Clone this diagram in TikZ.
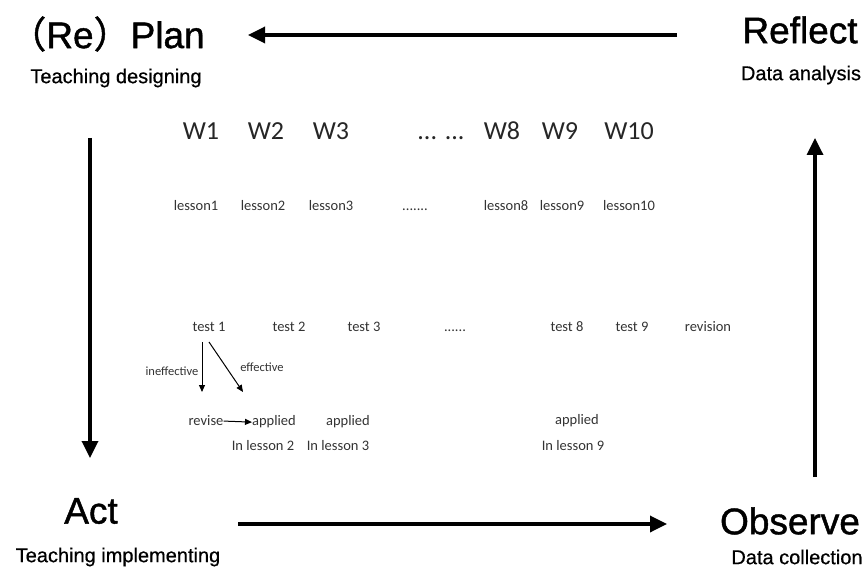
\documentclass[tikz,border=0pt]{standalone}
\usepackage{fontspec}
\setmainfont{Liberation Sans}
\newfontfamily\bigfont[FakeBold=1.2]{Liberation Sans}
\newfontfamily\subfont[FakeBold=0.6]{Liberation Sans}
\newfontfamily\carfont{Carlito}
\newfontfamily\cjkfont[FakeBold=1.2]{Noto Sans CJK SC}
\usetikzlibrary{arrows.meta}
\begin{document}
\begin{tikzpicture}[x=1pt,y=-1pt,
  big/.style={inner sep=0pt,font=\bigfont\fontsize{37}{40}\selectfont},
  sub/.style={inner sep=0pt,font=\subfont\fontsize{20}{22}\selectfont},
  week/.style={inner sep=0pt,anchor=base,font=\carfont\fontsize{26}{28}\selectfont,text=black!85},
  item/.style={inner sep=0pt,anchor=base,font=\carfont\fontsize{14.5}{16}\selectfont,text=black!80},
  tiny/.style={inner sep=0pt,font=\carfont\fontsize{12.5}{13}\selectfont,text=black!80},
  cycle/.style={line width=3.4pt,-{Triangle[length=17pt,width=16pt]}},
  small/.style={line width=1pt,-{Triangle[length=7pt,width=6pt]}}]
\useasboundingbox (0,0) rectangle (867,572);
% corner labels
\node[big] (plan) at (107,34) {{\cjkfont（}Re{\cjkfont）}Plan};
\node[sub] (plansub) at (116,78) {Teaching designing};
\node[big] (reflect) at (800,30) {Reflect};
\node[sub] (reflectsub) at (801,75) {Data analysis};
\node[big] (act) at (91,511) {Act};
\node[sub] (actsub) at (118,557) {Teaching implementing};
\node[big] (observe) at (790,521) {Observe};
\node[sub] (observesub) at (797,557) {Data collection};
% cycle arrows
\coordinate (tR) at (677,35);
\coordinate (tL) at (248,35);
\coordinate (lT) at (90,138);
\coordinate (lB) at (90,458);
\coordinate (bL) at (238,524);
\coordinate (bR) at (667,524);
\coordinate (rB) at (815,477);
\coordinate (rT) at (815,138);
\draw[cycle] (tR) -- (tL);
\draw[cycle] (lT) -- (lB);
\draw[cycle] (bL) -- (bR);
\draw[cycle] (rB) -- (rT);
% weeks
\node[week] (w1) at (201,140) {W1};
\node[week] (w2) at (266,140) {W2};
\node[week] (w3) at (331,140) {W3};
\node[week] (wd) at (441,140) {... ...};
\node[week] (w8) at (502,140) {W8};
\node[week] (w9) at (560,140) {W9};
\node[week] (w10) at (629,140) {W10};
% lessons
\node[item] (l1) at (196,211) {lesson1};
\node[item] (l2) at (263,211) {lesson2};
\node[item] (l3) at (331,211) {lesson3};
\node[item] (ld) at (415,211) {.......};
\node[item] (l8) at (506,211) {lesson8};
\node[item] (l9) at (562,211) {lesson9};
\node[item] (l10) at (629,211) {lesson10};
% tests
\node[item] (t1) at (209,331) {test 1};
\node[item] (t2) at (289,331) {test 2};
\node[item] (t3) at (364,331) {test 3};
\node[item] (td) at (455,331) {......};
\node[item] (t8) at (567,331) {test 8};
\node[item] (t9) at (632,331) {test 9};
\node[item] (rev) at (708,331) {revision};
% outcomes
\node[item] (revise) at (206,425) {revise};
\node[item] (ap1) at (274,425) {applied};
\node[item] (ap2) at (348,425) {applied};
\node[item] (in2) at (263,450) {In lesson 2};
\node[item] (in3) at (338,450) {In lesson 3};
\node[item] (ap9) at (577,424) {applied};
\node[item] (in9) at (573,450) {In lesson 9};
% small arrows
\coordinate (a1s) at (202,342);
\coordinate (a1e) at (202,392);
\coordinate (a2s) at (209,342);
\coordinate (a2e) at (243,392);
\draw[small] (a1s) -- (a1e);
\draw[small] (a2s) -- (a2e);
\node[tiny] (ineff) at (172,371) {ineffective};
\node[tiny] (eff) at (262,367) {effective};
\draw[small] ([yshift=-1pt]revise.east) -- ([yshift=-1pt]ap1.west);
\end{tikzpicture}
\end{document}
